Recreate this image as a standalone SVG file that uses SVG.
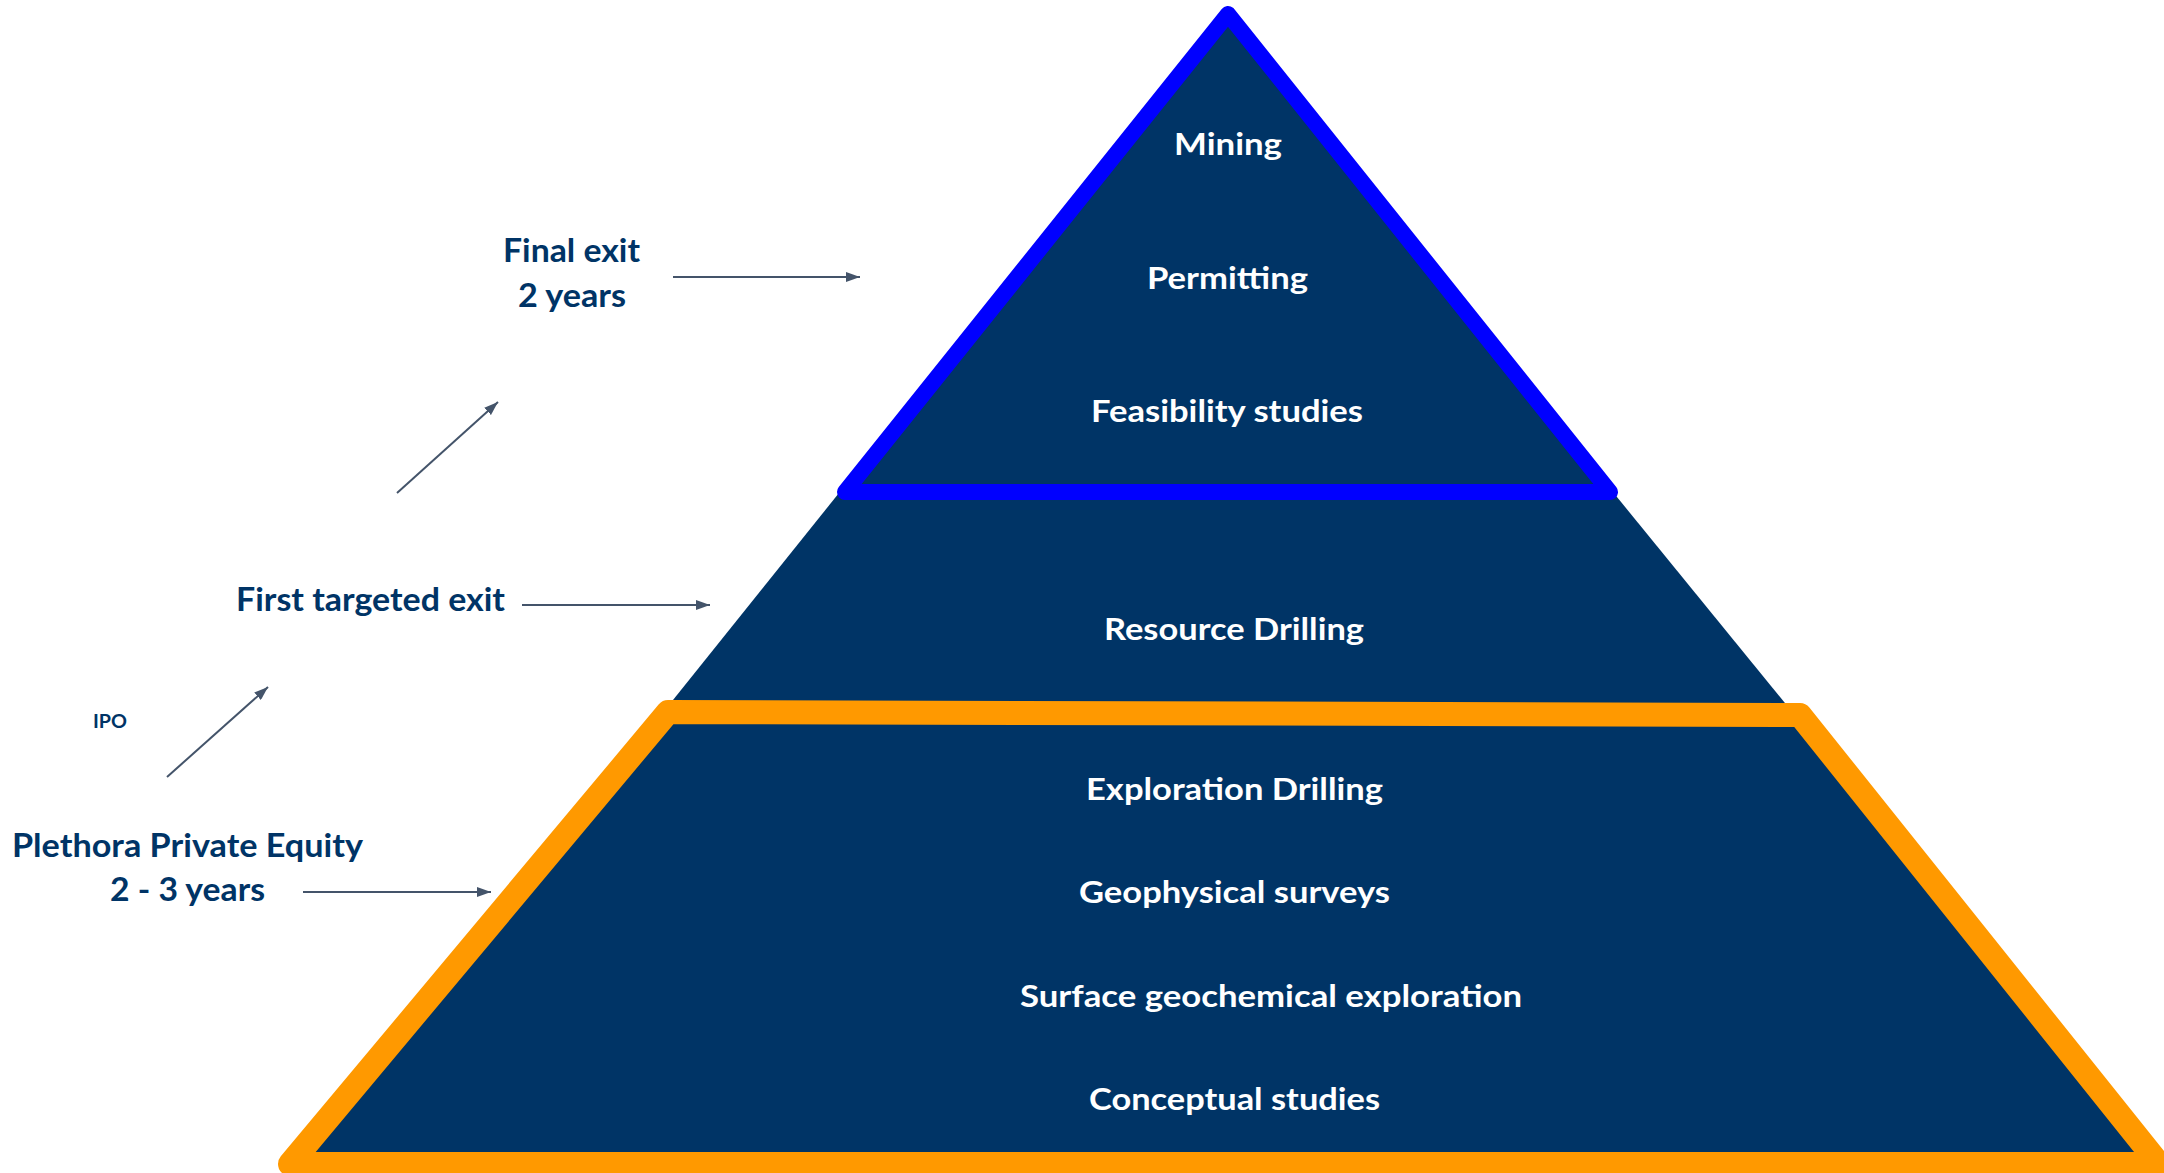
<svg xmlns="http://www.w3.org/2000/svg" width="2164" height="1173" viewBox="0 0 2164 1173">
  <style>
    .tier { fill: #ffffff; font-family: Lato, "Open Sans", "Liberation Sans", sans-serif; font-weight: 700; font-size: 31px; }
    .label { fill: #003466; font-family: Lato, "Open Sans", "Liberation Sans", sans-serif; font-weight: 700; font-size: 33px; }
    .small { fill: #003466; font-family: Lato, "Open Sans", "Liberation Sans", sans-serif; font-weight: 700; font-size: 19.5px; }
    .conn { stroke: #44546A; stroke-width: 2; fill: none; marker-end: url(#arrow); }
  </style>
  <defs>
    <marker id="arrow" markerWidth="7" markerHeight="5" refX="7" refY="2.5" orient="auto" markerUnits="strokeWidth">
      <path d="M0,0 L7,2.5 L0,5 Z" fill="#44546A"/>
    </marker>
  </defs>
  <rect width="2164" height="1173" fill="#ffffff"/>

  <!-- pyramid body -->
  <g id="pyramid">
    <polygon points="1223,14 2161,1164 301,1164" fill="#003466"/>
  </g>

  <!-- upper tier outlined in blue -->
  <g id="upper-tier">
    <polygon points="1228,14 1610,492 845,492" fill="#003466" stroke="#0000FF" stroke-width="16" stroke-linejoin="round"/>
    <text class="tier" x="1174" y="155" textLength="108" lengthAdjust="spacingAndGlyphs">Mining</text>
    <text class="tier" x="1147" y="289" textLength="161" lengthAdjust="spacingAndGlyphs">Permitting</text>
    <text class="tier" x="1091" y="422" textLength="272" lengthAdjust="spacingAndGlyphs">Feasibility studies</text>
  </g>

  <!-- middle tier -->
  <g id="middle-tier">
    <text class="tier" x="1104" y="640" textLength="260" lengthAdjust="spacingAndGlyphs">Resource Drilling</text>
  </g>

  <!-- lower tier outlined in orange -->
  <g id="lower-tier">
    <polygon points="668,712 1800,715 2159,1164 290,1164" fill="#003466" stroke="#FF9900" stroke-width="24" stroke-linejoin="round"/>
    <text class="tier" x="1086" y="800" textLength="297" lengthAdjust="spacingAndGlyphs">Exploration Drilling</text>
    <text class="tier" x="1079" y="903" textLength="311" lengthAdjust="spacingAndGlyphs">Geophysical surveys</text>
    <text class="tier" x="1020" y="1007" textLength="502" lengthAdjust="spacingAndGlyphs">Surface geochemical exploration</text>
    <text class="tier" x="1089" y="1110" textLength="291" lengthAdjust="spacingAndGlyphs">Conceptual studies</text>
  </g>

  <!-- side labels -->
  <g id="final-exit">
    <text class="label" x="503" y="262" textLength="137" lengthAdjust="spacingAndGlyphs">Final exit</text>
    <text class="label" x="518" y="307" textLength="108" lengthAdjust="spacingAndGlyphs">2 years</text>
  </g>
  <g id="first-exit">
    <text class="label" x="236" y="611" textLength="269" lengthAdjust="spacingAndGlyphs">First targeted exit</text>
  </g>
  <g id="ipo">
    <text class="small" x="93" y="728" textLength="34" lengthAdjust="spacingAndGlyphs">IPO</text>
  </g>
  <g id="private-equity">
    <text class="label" x="12" y="857" textLength="351" lengthAdjust="spacingAndGlyphs">Plethora Private Equity</text>
    <text class="label" x="110" y="901" textLength="155" lengthAdjust="spacingAndGlyphs">2 - 3 years</text>
  </g>

  <!-- connectors -->
  <g id="connectors">
    <line class="conn" x1="673" y1="277" x2="860" y2="277"/>
    <line class="conn" x1="522" y1="605" x2="710" y2="605"/>
    <line class="conn" x1="303" y1="892" x2="491" y2="892"/>
    <line class="conn" x1="397" y1="493" x2="498" y2="402"/>
    <line class="conn" x1="167" y1="777" x2="268" y2="687"/>
  </g>
</svg>
